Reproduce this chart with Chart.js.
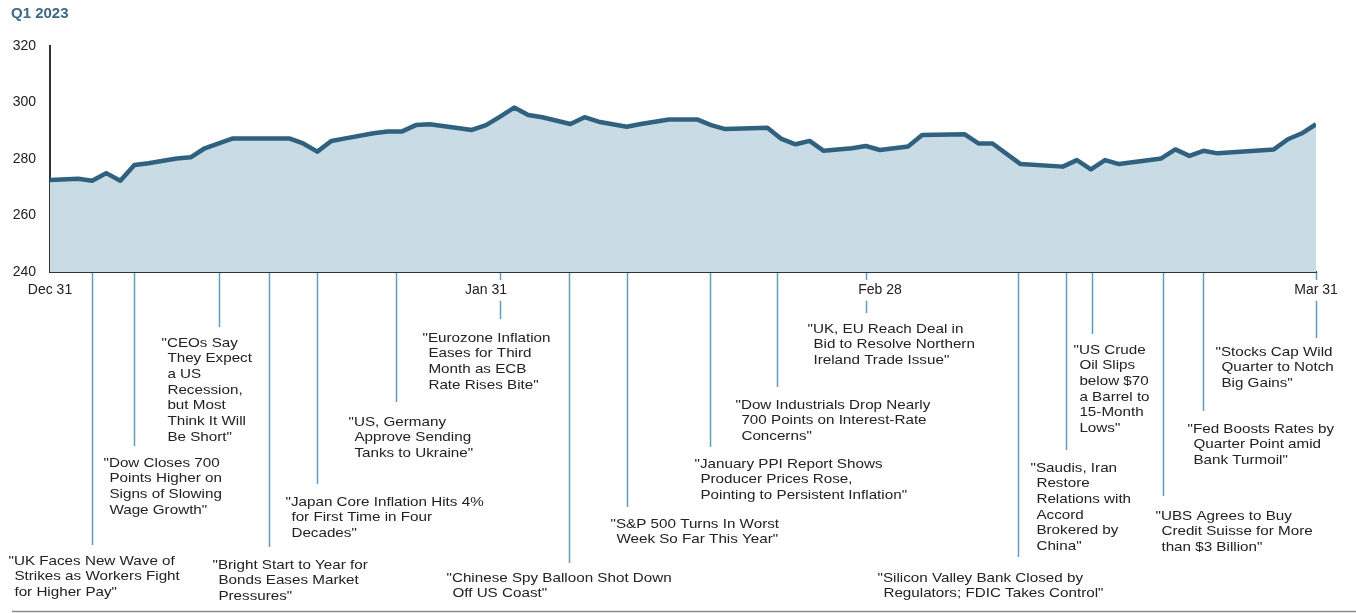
<!DOCTYPE html>
<html>
<head>
<meta charset="utf-8">
<script src="https://cdn.jsdelivr.net/npm/chart.js@4/dist/chart.umd.min.js"></script>
<style>
  html, body { margin: 0; padding: 0; background: #fff; }
  #wrap { width: 1356px; height: 613px; }
</style>
</head>
<body>
<div id="wrap"><canvas id="myChart"></canvas></div>
<script>
// days since Dec 31, 2022 and index level
const days = [0, 2, 3, 4, 5, 6, 7, 9, 10, 11, 12, 13, 17, 18, 19, 20, 21, 23, 24, 25, 26, 27,
    30, 31, 32, 33, 34, 35, 37, 38, 39, 41, 42, 44, 46, 47, 48, 51, 52, 53, 54, 55, 57, 58, 59,
    61, 62, 65, 66, 67, 69, 72, 73, 74, 75, 76, 79, 80, 81, 82, 83, 87, 88, 89, 90];
const values = [272.6, 273.0, 272.3, 275.0, 272.3, 277.9, 278.5, 280.2, 280.6, 283.8, 285.5, 287.3,
    287.3, 285.5, 282.6, 286.4, 287.3, 289.1, 289.7, 289.7, 292.0, 292.3,
    290.3, 292.0, 295.0, 298.2, 295.6, 294.8, 292.4, 294.8, 293.2, 291.4, 292.4, 294.0, 294.0,
    292.0, 290.6, 291.1, 287.1, 285.2, 286.4, 282.9, 283.8, 284.6, 283.2,
    284.4, 288.5, 288.8, 285.5, 285.5, 278.2, 277.3, 279.6, 276.3, 279.6, 278.2, 280.2, 283.4,
    281.1, 282.9, 282.0, 283.4, 287.0, 289.1, 292.3];

const tickDays = [0, 31, 59, 90];
const tickLabels = ['Dec 31', 'Jan 31', 'Feb 28', 'Mar 31'];

// headline events: day and text lines
const eventDays = [3, 6, 12, 15.6, 19, 24.6, 32, 36.9, 41, 46.9, 51.7, 58, 68.8, 72.2, 74.1, 79.1, 82, 90];
const eventTexts = [
    ['"UK Faces New Wave of', 'Strikes as Workers Fight', 'for Higher Pay"'],
    ['"Dow Closes 700', 'Points Higher on', 'Signs of Slowing', 'Wage Growth"'],
    ['"CEOs Say', 'They Expect', 'a US', 'Recession,', 'but Most', 'Think It Will', 'Be Short"'],
    ['"Bright Start to Year for', 'Bonds Eases Market', 'Pressures"'],
    ['"Japan Core Inflation Hits 4%', 'for First Time in Four', 'Decades"'],
    ['"US, Germany', 'Approve Sending', 'Tanks to Ukraine"'],
    ['"Eurozone Inflation', 'Eases for Third', 'Month as ECB', 'Rate Rises Bite"'],
    ['"Chinese Spy Balloon Shot Down', 'Off US Coast"'],
    ['"S&P 500 Turns In Worst', 'Week So Far This Year"'],
    ['"January PPI Report Shows', 'Producer Prices Rose,', 'Pointing to Persistent Inflation"'],
    ['"Dow Industrials Drop Nearly', '700 Points on Interest-Rate', 'Concerns"'],
    ['"UK, EU Reach Deal in', 'Bid to Resolve Northern', 'Ireland Trade Issue"'],
    ['"Silicon Valley Bank Closed by', 'Regulators; FDIC Takes Control"'],
    ['"Saudis, Iran', 'Restore', 'Relations with', 'Accord', 'Brokered by', 'China"'],
    ['"US Crude', 'Oil Slips', 'below $70', 'a Barrel to', '15-Month', 'Lows"'],
    ['"UBS Agrees to Buy', 'Credit Suisse for More', 'than $3 Billion"'],
    ['"Fed Boosts Rates by', 'Quarter Point amid', 'Bank Turmoil"'],
    ['"Stocks Cap Wild', 'Quarter to Notch', 'Big Gains"']
];

// layout only: text offset from the leader line, leader line end, first text line centre
const eventLayout = [
    [-84, 545, 561], [-31, 446, 463], [-58, 327, 343], [-57, 547, 565],
    [-32, 484, 502], [-48, 402, 422], [-78, 319, 338], [-123, 563, 578],
    [-17, 507, 524], [-16, 447, 464], [-42, 387, 405], [-59, 313, 329],
    [-141, 557, 578], [-36, 450, 468], [-19, 334, 350], [-8, 496, 516],
    [-16, 411, 429], [-101, 338, 352]
];

const FONT = '"Liberation Sans", Arial, sans-serif';
const ctx = document.getElementById('myChart');

const eventsPlugin = {
    id: 'events',
    beforeDraw(chart) {
        const c = chart.ctx;
        const x = chart.scales.x;
        const bottom = chart.chartArea.bottom;
        c.save();
        c.font = '13px ' + FONT;
        c.textBaseline = 'middle';
        c.fillStyle = '#222';
        const stretch = 1.17;
        const indent = c.measureText('"').width * stretch + 0.5;
        eventDays.forEach(function (d, i) {
            const px = Math.round(x.getPixelForValue(d)) + 0.5;
            const lay = eventLayout[i];
            c.strokeStyle = '#5f9cc0';
            c.lineWidth = 1.5;
            c.beginPath();
            c.moveTo(px, bottom);
            c.lineTo(px, lay[1]);
            c.stroke();
            eventTexts[i].forEach(function (line, j) {
                c.save();
                c.translate(px + lay[0] + (j > 0 ? indent : 0), lay[2] + j * 15.7);
                c.scale(stretch, 1);
                c.fillText(line, 0, 0);
                c.restore();
            });
        });
        c.restore();
    },
    afterDraw(chart) {
        const c = chart.ctx;
        c.save();
        c.strokeStyle = '#8a8a8a';
        c.lineWidth = 1.5;
        c.beginPath();
        c.moveTo(12, 611.5);
        c.lineTo(chart.width, 611.5);
        c.stroke();
        c.restore();
    }
};

new Chart(ctx, {
    type: 'line',
    data: {
        datasets: [{
            data: days.map((d, i) => ({ x: d, y: values[i] })),
            borderColor: '#30617f',
            backgroundColor: '#c9dbe4',
            borderWidth: 4.5,
            borderJoinStyle: 'round',
            fill: 'start',
            pointRadius: 0,
            tension: 0
        }]
    },
    options: {
        responsive: true,
        maintainAspectRatio: false,
        animation: false,
        layout: { padding: { left: 11, top: 0, right: 40, bottom: 0 } },
        plugins: {
            legend: { display: false },
            tooltip: { enabled: false },
            title: {
                display: true,
                text: 'Q1 2023',
                align: 'start',
                color: '#3c6a8a',
                font: { family: FONT, size: 15, weight: 'bold', lineHeight: 1.2 },
                padding: { top: 5, bottom: 23 }
            }
        },
        scales: {
            x: {
                type: 'linear',
                min: 0,
                max: 90,
                z: 1,
                grid: { display: false, drawTicks: false },
                border: { display: true, color: '#333', width: 2 },
                afterBuildTicks: function (scale) {
                    scale.ticks = tickDays.map(v => ({ value: v }));
                },
                afterFit: function (scale) { scale.height = 341; },
                ticks: {
                    autoSkip: false,
                    maxRotation: 0,
                    padding: 10,
                    color: '#222',
                    font: { family: FONT, size: 14 },
                    showLabelBackdrop: true,
                    backdropColor: '#fff',
                    backdropPadding: { x: 2, y: 2 },
                    callback: function (value) {
                        return tickLabels[tickDays.indexOf(value)];
                    }
                }
            },
            y: {
                min: 240,
                max: 320,
                z: 1,
                grid: { display: false, drawTicks: false },
                border: { display: true, color: '#333', width: 2 },
                afterFit: function (scale) { scale.width = 39; },
                ticks: {
                    stepSize: 20,
                    padding: 14,
                    color: '#222',
                    font: { family: FONT, size: 14 }
                }
            }
        }
    },
    plugins: [eventsPlugin]
});
</script>
</body>
</html>
